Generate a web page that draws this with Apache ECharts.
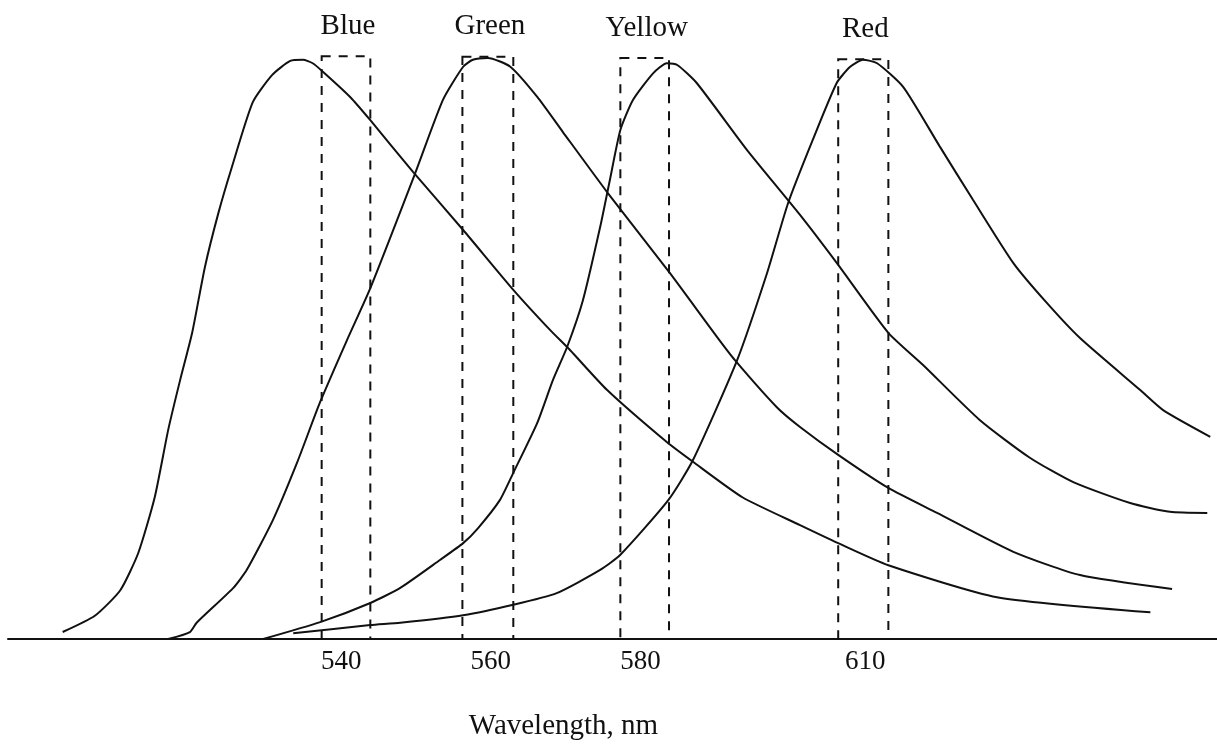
<!DOCTYPE html>
<html>
<head>
<meta charset="utf-8">
<script src="https://cdn.jsdelivr.net/npm/echarts@6/dist/echarts.min.js"></script>
<style>
  html, body { margin: 0; padding: 0; background: #fff; }
  #chart { width: 1217px; height: 748px; }
</style>
</head>
<body>
<div id="chart"></div>
<script>
// Emission spectra of four dyes, [wavelength nm, relative intensity]
const blueCurve = [
  [502.8, 1.2], [507.1, 4.0], [510.5, 8.4], [512.9, 14.8], [515.1, 24.4], [516.9, 36.0],
  [518.5, 44.6], [520.1, 52.7], [521.8, 64.0], [523.6, 73.3], [525.4, 81.2], [528.2, 92.4],
  [530.8, 97.1], [533.2, 99.5], [534.9, 99.7], [536.2, 99.1], [537.6, 97.6], [541.2, 93.3],
  [543.9, 89.3], [549.6, 80.4], [556.3, 70.4], [563.0, 60.1], [567.9, 53.2], [570.6, 49.7],
  [575.5, 42.9], [583.5, 33.9], [587.0, 30.5], [593.6, 24.4], [601.3, 19.6], [606.4, 16.5],
  [613.1, 12.7], [627.6, 7.2], [648.1, 4.6]
];
const greenCurve = [
  [516.9, 0.0], [519.8, 1.2], [520.7, 2.8], [525.6, 8.8], [527.4, 11.9], [530.9, 20.5],
  [534.1, 30.3], [537.2, 40.8], [540.8, 51.5], [543.9, 60.4], [549.9, 80.2], [553.6, 92.8],
  [556.3, 98.5], [557.6, 99.7], [559.6, 100.0], [562.6, 98.5], [566.2, 93.3], [569.6, 87.3],
  [575.6, 76.8], [583.9, 63.0], [590.2, 52.0], [592.6, 48.0], [598.2, 39.9], [601.3, 36.5],
  [606.4, 31.7], [613.1, 26.0], [619.6, 21.7], [629.8, 15.0], [638.7, 11.0], [651.0, 8.6]
];
const yellowCurve = [
  [529.6, 0.0], [537.2, 2.9], [543.9, 6.2], [547.9, 8.8], [553.2, 13.6], [556.3, 16.5],
  [558.3, 19.1], [561.2, 23.9], [563.0, 28.6], [566.2, 37.2], [568.3, 44.6], [570.2, 50.3],
  [572.3, 58.3], [574.6, 70.9], [575.9, 79.0], [577.3, 87.6], [579.0, 92.8], [581.7, 97.4],
  [583.5, 99.1], [584.9, 98.8], [587.5, 95.7], [594.2, 84.2], [601.3, 73.0], [606.4, 64.4],
  [613.1, 52.7], [617.7, 47.2], [625.3, 37.7], [632.0, 31.2], [637.8, 27.0], [645.4, 23.4],
  [650.7, 21.9], [655.7, 21.7]
];
const redCurve = [
  [533.6, 1.0], [543.9, 2.4], [547.9, 2.8], [556.3, 4.1], [563.0, 5.9], [568.8, 7.9],
  [574.6, 11.9], [577.3, 14.5], [583.7, 23.9], [587.0, 30.8], [592.9, 48.0], [596.9, 63.0],
  [599.7, 75.0], [603.0, 85.9], [606.2, 95.7], [608.0, 98.5], [609.7, 99.7], [611.6, 99.1],
  [615.1, 95.0], [620.0, 84.7], [624.4, 75.6], [629.8, 64.7], [634.3, 57.8], [638.7, 51.8],
  [646.7, 42.9], [649.8, 39.4], [656.1, 34.8]
];

// Filter pass bands: [from nm, to nm, top]
const bandNames = ['Blue', 'Green', 'Yellow', 'Red'];
const bandRanges = [
  [537.4, 543.9, 100.3],
  [556.2, 563.0, 100.2],
  [577.3, 583.8, 100.0],
  [606.4, 613.1, 99.8]
];

// Wavelengths labelled under the axis
const tickValues = [540, 560, 580, 610];

const serif = "'Liberation Serif', 'Times New Roman', 'DejaVu Serif', serif";
const ink = '#111';

const curveSeries = [blueCurve, greenCurve, yellowCurve, redCurve].map((d, i) => ({
  name: bandNames[i],
  type: 'line',
  data: d,
  showSymbol: false,
  smooth: 0.2,
  lineStyle: { color: ink, width: 2 },
  z: 3
}));

const bandSeries = {
  type: 'custom',
  data: bandRanges.map((b, i) => [b[0], b[1], b[2], i]),
  clip: false,
  z: 2,
  renderItem: function (params, api) {
    const a = api.coord([api.value(0), api.value(2)]);
    const b = api.coord([api.value(1), 0]);
    const idx = api.value(3);
    return {
      type: 'group',
      children: [
        {
          type: 'rect',
          shape: { x: a[0], y: a[1], width: b[0] - a[0], height: b[1] - a[1] },
          style: { fill: 'none', stroke: ink, lineWidth: 2, lineDash: [9, 8] }
        },
        {
          type: 'text',
          style: {
            text: bandNames[idx],
            x: (a[0] + b[0]) / 2 + 2,
            y: a[1] - 30,
            align: 'center',
            verticalAlign: 'middle',
            font: '29px ' + serif,
            fill: ink
          }
        }
      ]
    };
  }
};

const chart = echarts.init(document.getElementById('chart'), null, { renderer: 'canvas' });
chart.setOption({
  backgroundColor: '#fff',
  animation: false,
  grid: { left: 8, right: 0, top: 52.2, bottom: 109 },
  xAxis: {
    type: 'value',
    min: 495.5,
    max: 657,
    splitLine: { show: false },
    axisTick: { show: false },
    axisLine: { show: true, lineStyle: { color: ink, width: 2 } },
    axisLabel: {
      customValues: tickValues,
      color: ink,
      fontFamily: serif,
      fontSize: 27,
      margin: 9
    },
    name: 'Wavelength, nm',
    nameLocation: 'middle',
    nameGap: 73,
    nameTextStyle: {
      color: ink,
      fontFamily: serif,
      fontSize: 29,
      padding: [0, 98, 0, 0]
    }
  },
  yAxis: {
    type: 'value',
    min: 0,
    max: 101,
    show: false,
    splitLine: { show: false }
  },
  series: [bandSeries].concat(curveSeries)
});
</script>
</body>
</html>
